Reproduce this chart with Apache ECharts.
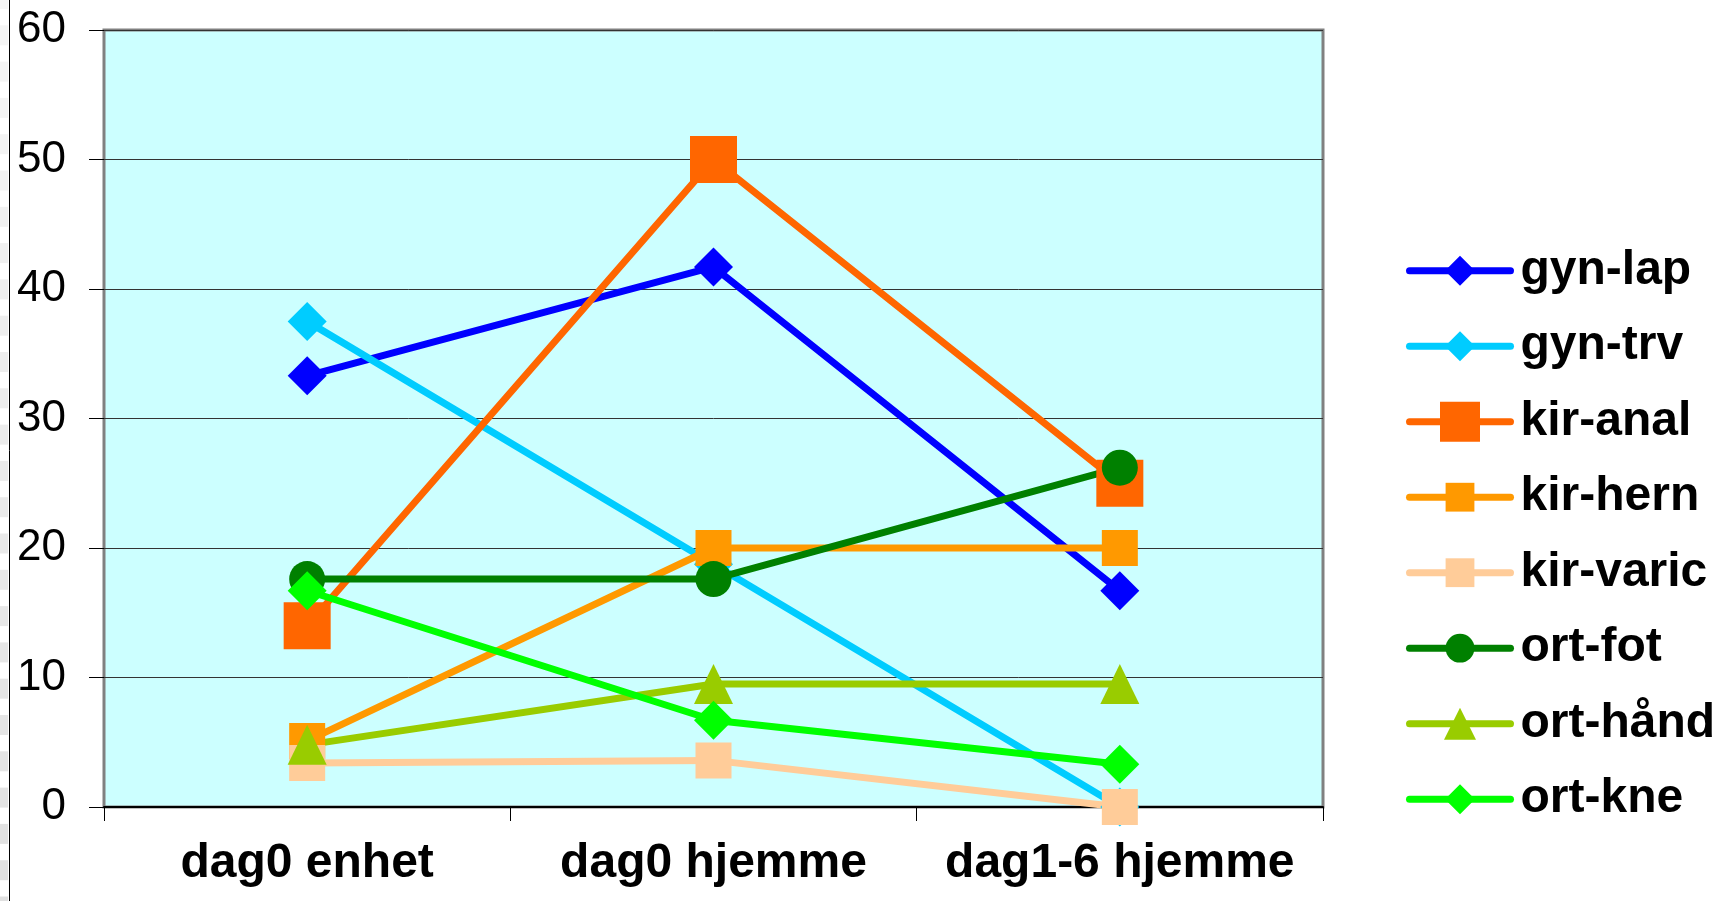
<!DOCTYPE html>
<html><head><meta charset="utf-8">
<script src="https://cdn.jsdelivr.net/npm/echarts@6/dist/echarts.min.js"></script>
<style>html,body{margin:0;padding:0;background:#fff}#c{width:1718px;height:901px}</style>
</head><body><div id="c"></div>
<script>
// ---- data ----
const categories = ['dag0 enhet', 'dag0 hjemme', 'dag1-6 hjemme'];
const yTicks = [0, 10, 20, 30, 40, 50, 60];
const seriesNames = ['gyn-lap', 'gyn-trv', 'kir-anal', 'kir-hern', 'kir-varic', 'ort-fot', 'ort-hånd', 'ort-kne'];
const gynLap   = [33.3, 41.7, 16.7];
const gynTrv   = [37.5, 18.75, 0];
const kirAnal  = [14.0, 50.0, 25.0];
const kirHern  = [5.1, 20.0, 20.0];
const kirVaric = [3.4, 3.6, 0];
const ortFot   = [17.6, 17.6, 26.2];
const ortHand  = [4.8, 9.5, 9.5];
const ortKne   = [16.7, 6.7, 3.3];

// ---- styles ----
const FONT = '"Liberation Sans", Arial, sans-serif';
const seriesData = [gynLap, gynTrv, kirAnal, kirHern, kirVaric, ortFot, ortHand, ortKne];
const colors = ['#0000FF', '#00CCFF', '#FF6600', '#FF9900', '#FFCC99', '#008000', '#99CC00', '#00FF00'];
const symbols = ['diamond', 'diamond', 'rect', 'rect', 'rect', 'circle', 'triangle', 'diamond'];
const symbolSizes = [39, 39, 47, 36, 36, 36, [39, 40], 39];
const legendItemHeights = [37.5, 37.5, 50, 36, 36, 36, 40, 37.5];

const series = seriesNames.map((name, i) => ({
  name: name,
  type: 'line',
  data: seriesData[i],
  symbol: symbols[i],
  symbolSize: symbolSizes[i],
  itemStyle: { color: colors[i], opacity: 1 },
  lineStyle: { color: colors[i], width: 7, cap: 'round', join: 'round' },
  emphasis: { disabled: true },
  silent: true
}));

const legendTop0 = 270.7, legendStep = 75.5, legendLH = 56;
const legends = seriesNames.map((name, i) => ({
  data: [name],
  left: 1406,
  top: legendTop0 + i * legendStep - legendLH / 2,
  orient: 'vertical',
  padding: 0,
  itemWidth: 101,
  itemHeight: legendItemHeights[i],
  selectedMode: false,
  lineStyle: { width: 7, cap: 'round' },
  textStyle: { fontSize: 48, fontWeight: 'bold', color: '#000', fontFamily: FONT, lineHeight: legendLH, padding: [0, 0, 0, 5] }
}));

// left-edge decoration of the original picture
const deco = [{ type: 'line', shape: { x1: 9.5, y1: 0, x2: 9.5, y2: 901 }, style: { stroke: '#000', lineWidth: 1 }, silent: true }];
for (let y = 715 - 36.3 * 20; y < 901; y += 36.3) {
  const t = Math.max(0, Math.min(1, y / 901));
  const g = Math.round(246 - 22 * t);
  deco.push({ type: 'rect', shape: { x: 0, y: y, width: 8, height: 20 }, style: { fill: 'rgb(' + g + ',' + g + ',' + g + ')' }, silent: true });
}

const chart = echarts.init(document.getElementById('c'), null, { renderer: 'canvas' });
chart.setOption({
  animation: false,
  backgroundColor: '#ffffff',
  graphic: deco,
  grid: {
    left: 104, right: 395, top: 30, bottom: 94,
    show: true, backgroundColor: '#CCFFFF', borderColor: '#808080', borderWidth: 3
  },
  legend: legends,
  xAxis: {
    type: 'category',
    data: categories,
    boundaryGap: true,
    axisLine: { show: true, lineStyle: { color: '#000', width: 2 } },
    axisTick: { show: true, length: 14, inside: false, lineStyle: { color: '#000', width: 1 } },
    axisLabel: { margin: 33, fontSize: 48, fontWeight: 'bold', color: '#000', fontFamily: FONT, interval: 0 },
    splitLine: { show: false }
  },
  yAxis: {
    type: 'value',
    min: yTicks[0],
    max: yTicks[yTicks.length - 1],
    interval: yTicks[1] - yTicks[0],
    axisLine: { show: false },
    axisTick: { show: true, length: 15, inside: false, lineStyle: { color: '#000', width: 1 } },
    axisLabel: { margin: 38, fontSize: 44, color: '#000', fontFamily: FONT },
    splitLine: { show: true, lineStyle: { color: '#333', width: 1 } }
  },
  series: series
});
</script></body></html>
